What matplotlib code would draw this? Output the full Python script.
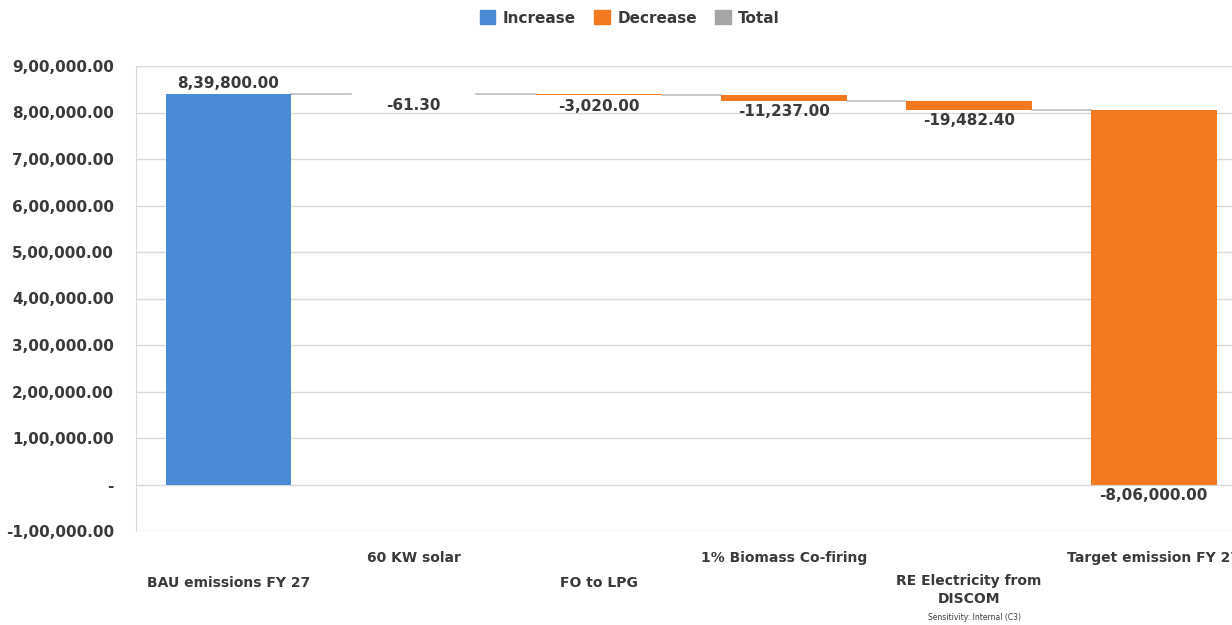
import matplotlib.pyplot as plt
from matplotlib.patches import Patch
import numpy as np

# ---- data ----
categories = ['BAU emissions FY 27', '60 KW solar', 'FO to LPG',
              '1% Biomass Co-firing', 'RE Electricity from\nDISCOM',
              'Target emission FY 27']
values = [839800.00, -61.30, -3020.00, -11237.00, -19482.40, -806000.00]
yticks = [-100000, 0, 100000, 200000, 300000, 400000, 500000,
          600000, 700000, 800000, 900000]
legend_names = ['Increase', 'Decrease', 'Total']

c_inc = '#4a8bd6'
c_dec = '#f37a21'
c_tot = '#a5a5a5'
txt = '#3a3a3a'

# Indian digit grouping, e.g. 8,39,800.00 ; zero shown as '-'
def indian(v):
  if abs(v) < 1e-9:
    return '-'
  sign = '-' if v < 0 else ''
  ip, dp = ('%.2f' % abs(v)).split('.')
  if len(ip) > 3:
    head, tail = ip[:-3], ip[-3:]
    groups = []
    while len(head) > 2:
      groups.insert(0, head[-2:])
      head = head[:-2]
    if head:
      groups.insert(0, head)
    ip = ','.join(groups) + ',' + tail
  return sign + ip + '.' + dp

plt.rcParams['font.family'] = ['DejaVu Sans']
fig = plt.figure(figsize=(12.32, 6.25), dpi=100)
# plot area runs past the right edge of the picture, as in the reference
ax = fig.add_axes([136/1232, 1 - 531/625, 1151/1232, 465/625])

x = np.arange(len(values))
width = 0.68
starts, ends = [], []
run = 0.0
for v in values:
  starts.append(run)
  run += v
  ends.append(run)
# last bar: drawn from the running total down to zero
starts[-1] = -values[-1]
ends[-1] = 0.0

for i, v in enumerate(values):
  lo, hi = min(starts[i], ends[i]), max(starts[i], ends[i])
  col = c_inc if v > 0 else c_dec
  ax.bar(x[i], hi - lo, width, bottom=lo, color=col, zorder=3)
  if v > 0:
    ax.text(x[i], hi + 7000, indian(v), ha='center', va='bottom',
            fontsize=11, fontweight='bold', color=txt)
  else:
    ax.text(x[i], lo - 8000, indian(v), ha='center', va='top',
            fontsize=11, fontweight='bold', color=txt)

# connector lines between bars
for i in range(len(values) - 1):
  ax.plot([x[i] + width/2, x[i+1] - width/2], [ends[i], ends[i]],
          color='#bfbfbf', lw=1.2, zorder=2)

ax.set_xlim(-0.5, 5.72)
ax.set_ylim(-100000, 900000)
ax.set_yticks(yticks)
ax.set_yticklabels([indian(t) for t in yticks], fontsize=11,
                   fontweight='bold', color=txt)
ax.yaxis.grid(True, color='#d9d9d9', lw=1, zorder=0)
ax.tick_params(axis='y', length=0, pad=16)
ax.set_xticks([])
for s in ['top', 'right', 'bottom']:
  ax.spines[s].set_visible(False)
ax.spines['left'].set_color('#d9d9d9')

# staggered category labels
ypos = [583, 558, 583, 558, 590, 558]
for i, c in enumerate(categories):
  xf = ax.transData.transform((x[i], 0))[0] / fig.bbox.width
  fig.text(xf, 1 - ypos[i]/625, c, ha='center', va='center', fontsize=10,
           fontweight='bold', color=txt, linespacing=1.35)

fig.text(975/1232, 1 - 617/625, 'Sensitivity: Internal (C3)', ha='center',
         va='center', fontsize=5.5, color=txt)

handles = [Patch(color=c_inc), Patch(color=c_dec), Patch(color=c_tot)]
fig.legend(handles, legend_names, loc='center',
           bbox_to_anchor=(630/1232, 1 - 18/625), ncol=3, frameon=False,
           prop={'weight': 'bold', 'size': 11}, labelcolor=txt,
           handlelength=1, handleheight=1, handletextpad=0.5,
           columnspacing=1.2)

fig.savefig('out.png', dpi=100)
